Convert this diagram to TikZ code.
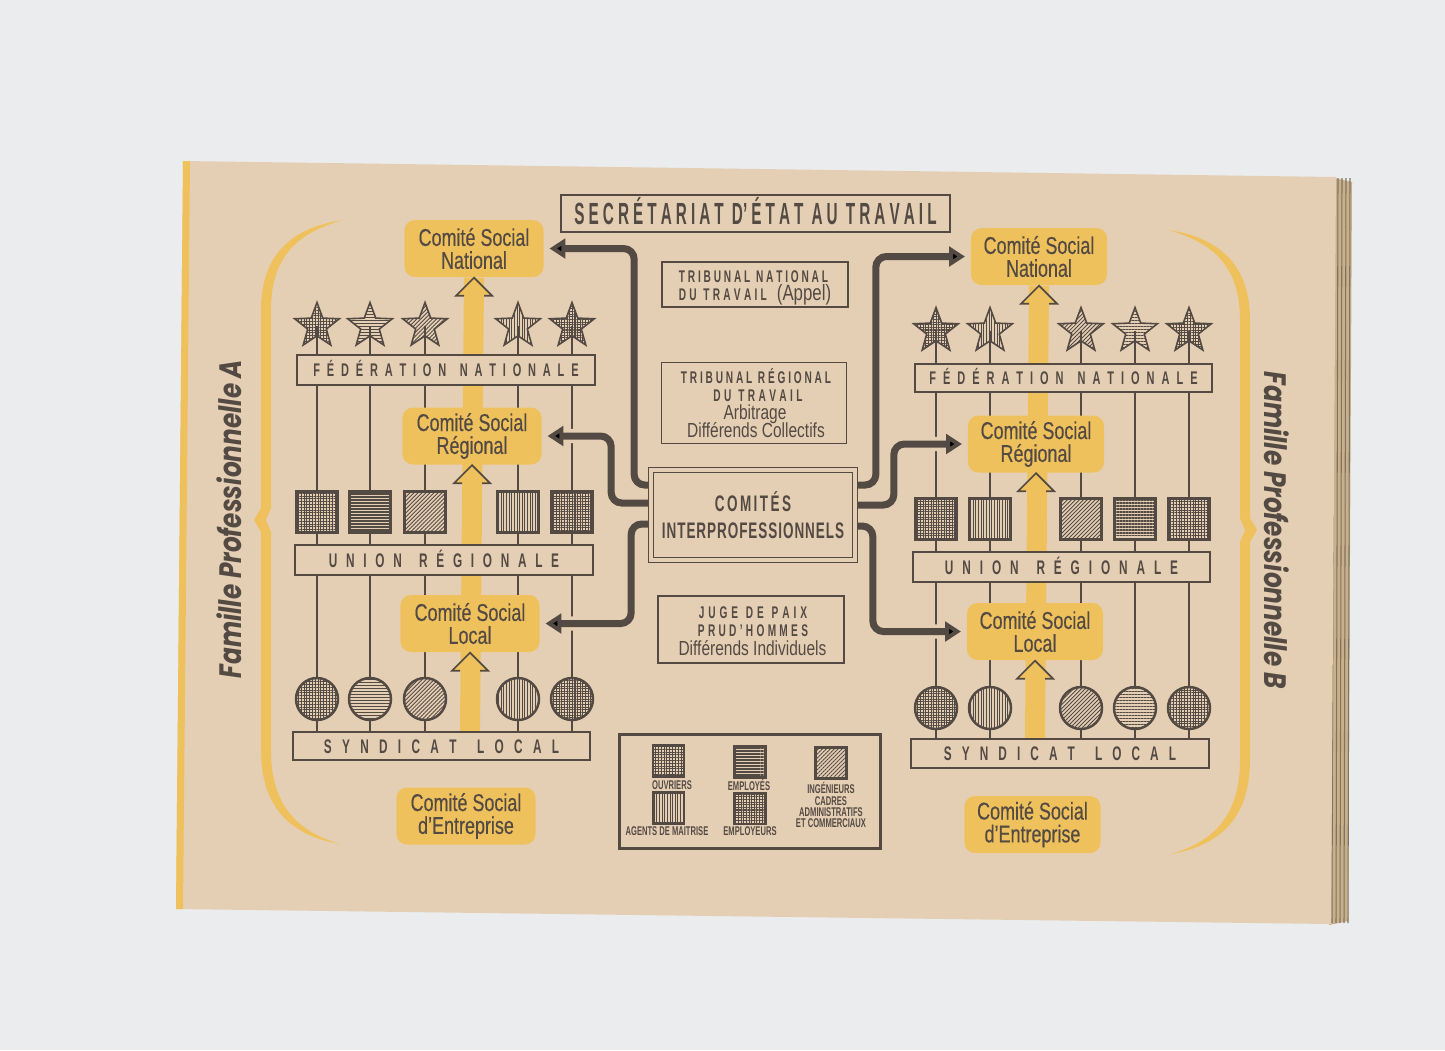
\documentclass[tikz,border=0pt]{standalone}
\usepackage{fontspec}
\setmainfont{Liberation Sans}
\newfontfamily\condf[FakeStretch=0.76]{Liberation Sans}
\newfontfamily\comf[FakeStretch=0.74, FakeBold=0.4]{Liberation Sans}
\newfontfamily\capf[FakeStretch=0.6]{Liberation Sans}
\newfontfamily\titref[FakeStretch=0.5]{Liberation Sans}
\newfontfamily\famf[FakeStretch=0.8]{Poppins}
\usetikzlibrary{shapes.geometric, arrows.meta, patterns.meta, calc}

\pgfdeclarelayer{bg}
\pgfdeclarelayer{mid}
\pgfsetlayers{bg,mid,main}

\definecolor{fond}{RGB}{234,236,237}
\definecolor{papier}{RGB}{229,207,180}
\definecolor{jaune}{RGB}{239,193,92}
\definecolor{encre}{RGB}{84,74,68}
\definecolor{tranche}{RGB}{200,176,138}

% lettres espacees sur une largeur donnee
\newcommand{\spread}[2]{\makebox[#1][s]{\spaceskip=0pt plus 1fil\relax #2}}

\tikzset{
  filet/.style={draw=encre, line width=0.55pt},
  bande/.style={draw=encre, line width=0.6pt, fill=papier, inner sep=0pt,
    minimum width=2.97cm, minimum height=0.29cm, text height=4pt, text depth=0pt,
    font=\capf\bfseries\fontsize{5.6}{6}\selectfont},
  comite/.style={fill=jaune, rounded corners=3pt, inner sep=0pt,
    minimum width=1.39cm, minimum height=0.57cm, align=center,
    font=\comf\fontsize{6.9}{6.5}\selectfont},
  etoile/.style={star, star points=5, star point ratio=2.4, minimum size=0.47cm,
    inner sep=0pt, draw=encre, line width=0.45pt, preaction={fill=papier}},
  carre/.style={rectangle, minimum size=0.41cm, inner sep=0pt, draw=encre,
    line width=0.7pt, preaction={fill=papier}},
  rond/.style={circle, minimum size=0.42cm, inner sep=0pt, draw=encre,
    line width=0.7pt, preaction={fill=papier}},
  pOuv/.style={pattern={Hatch[distance=0.8pt, line width=0.15pt]}, pattern color=encre},
  pEmp/.style={pattern={Lines[angle=0, distance=0.85pt, line width=0.35pt]}, pattern color=encre},
  pIng/.style={pattern={Lines[angle=45, distance=0.8pt, line width=0.25pt]}, pattern color=encre},
  pAg/.style={pattern={Lines[angle=90, distance=0.75pt, line width=0.22pt]}, pattern color=encre},
  pPat/.style={pattern={Hatch[distance=0.75pt, line width=0.3pt]}, pattern color=encre},
  tige/.style={draw=jaune, line width=5.7pt},
  pointe/.style={draw=encre, line width=0.5pt},
  fleche/.style={draw=encre, line width=2pt, rounded corners=3pt, shorten >=1.5pt,
    -{Triangle[length=4.5pt, width=5.5pt]}, preaction={draw=papier, line width=4pt, -}},
  cadre/.style={draw=encre, line width=0.45pt, fill=papier, inner sep=0pt},
  titre/.style={font=\capf\bfseries\fontsize{4.8}{6}\selectfont, anchor=base, inner sep=0pt},
  mot/.style={font=\condf\fontsize{5.8}{6}\selectfont, anchor=base, inner sep=0pt},
  legtxt/.style={font=\capf\bfseries\fontsize{3.6}{3.15}\selectfont, inner sep=0pt},
  famille/.style={font=\famf\bfseries\itshape\fontsize{8.8}{9}\selectfont, inner sep=0pt},
}

\begin{document}
\begin{tikzpicture}[x=0.01cm, y=-0.01cm, color=encre]
\useasboundingbox (0,0) rectangle (1445,1050);

\begin{pgfonlayer}{bg}
% fond, page et tranche
\fill[fond] (0,0) rectangle (1445,1050);
\fill[tranche] (1330,177) -- (1352,182) -- (1348,921) -- (1329,925) -- cycle;
\foreach \d in {3,7,11,15,19}
  \draw[encre!60!tranche, line width=0.3pt] (1331+\d,178) -- (1329+\d,923);
\fill[papier] (183,161) -- (1336,177) -- (1331,924) -- (176,909) -- cycle;
\fill[jaune] (183,161) -- (190,161) -- (183,909) -- (176,909) -- cycle;

% accolades
\fill[jaune] (343,220) .. controls (288,228) and (261,258) .. (261,310) -- (261,508)
  -- (254,520) -- (261,532) -- (261,750) .. controls (261,805) and (288,835) .. (340,844)
  .. controls (292,830) and (271,800) .. (271,750) -- (271,532) -- (266,520) -- (271,508)
  -- (271,310) .. controls (271,262) and (292,234) .. (343,220) -- cycle;
\fill[jaune, shift={(1511,10)}, xscale=-1] (343,220) .. controls (288,228) and (261,258) .. (261,310) -- (261,508)
  -- (254,520) -- (261,532) -- (261,750) .. controls (261,805) and (288,835) .. (340,844)
  .. controls (292,830) and (271,800) .. (271,750) -- (271,532) -- (266,520) -- (271,508)
  -- (271,310) .. controls (271,262) and (292,234) .. (343,220) -- cycle;
\end{pgfonlayer}

% Famille A
\node[bande, minimum height=0.30cm, text height=3.7pt, font=\capf\bfseries\fontsize{5.2}{6}\selectfont]
  (fedA) at (446,370) {\spread{2.65cm}{F É D É R A T I O N \ N A T I O N A L E}};
\node[bande, minimum height=0.30cm] (uniA) at (444,560) {\spread{2.30cm}{U N I O N \ R É G I O N A L E}};
\node[bande, minimum height=0.28cm] (synA) at (441.5,746) {\spread{2.35cm}{S Y N D I C A T \ L O C A L}};

\foreach \x/\p [count=\i] in {317/pOuv, 370/pEmp, 425/pIng, 518/pAg, 572/pPat} {
  \node[etoile, \p] (etA\i) at (\x,326) {};
  \draw[filet] (etA\i.center) -- (etA\i.south);
  \node[carre, \p] (caA\i) at (\x,512) {};
  \node[rond, \p] (roA\i) at (\x,699) {};
}

\node[comite] (csNA) at (474,248.5) {Comité Social\\National};
\node[comite] (csRA) at (472,436) {Comité Social\\Régional};
\node[comite] (csLA) at (470,623.5) {Comité Social\\Local};
\node[comite] (csEA) at (466,816) {Comité Social\\d’Entreprise};

% Famille B
\node[bande, minimum height=0.28cm, text height=3.7pt, font=\capf\bfseries\fontsize{5.2}{6}\selectfont]
  (fedB) at (1063.5,378) {\spread{2.68cm}{F É D É R A T I O N \ N A T I O N A L E}};
\node[bande, minimum height=0.30cm] (uniB) at (1061.5,567) {\spread{2.33cm}{U N I O N \ R É G I O N A L E}};
\node[bande, minimum height=0.29cm] (synB) at (1060,753.5) {\spread{2.32cm}{S Y N D I C A T \ L O C A L}};

\foreach \x/\p [count=\i] in {936/pPat, 990/pAg, 1081/pIng, 1135/pEmp, 1189/pOuv} {
  \node[etoile, \p] (etB\i) at (\x,331) {};
  \draw[filet] (etB\i.center) -- (etB\i.south);
  \node[carre, \p] (caB\i) at (\x,519) {};
  \node[rond, \p] (roB\i) at (\x,708) {};
}

\node[comite, minimum width=1.36cm] (csNB) at (1039,256.5) {Comité Social\\National};
\node[comite, minimum width=1.36cm] (csRB) at (1036,444) {Comité Social\\Régional};
\node[comite, minimum width=1.36cm] (csLB) at (1035,631.5) {Comité Social\\Local};
\node[comite, minimum width=1.36cm] (csEB) at (1032.5,824.5) {Comité Social\\d’Entreprise};

% filets et grandes fleches jaunes
\begin{pgfonlayer}{bg}
\foreach \i in {1,...,5} {
  \draw[filet] (etA\i.south) -- (etA\i.south |- synA.north);
  \draw[filet] (etB\i.south) -- (etB\i.south |- synB.north);
}
\draw[tige] (synA.north -| csLA.south) -- (csNA.south);
\draw[tige] (synB.north -| csLB.south) -- (csNB.south);
\end{pgfonlayer}

\foreach \n in {csNA, csRA, csLA, csNB, csRB, csLB} {
  \fill[jaune] (\n.south) -- ++(-18,18) -- ++(36,0) -- cycle;
  \draw[pointe] ($(\n.south)+(-10,18)$) -- ++(-8,0) -- (\n.south) -- ++(18,18) -- ++(-8,0);
}

% partie centrale
\node[cadre, line width=0.7pt, minimum width=3.89cm, minimum height=0.37cm, text height=6.2pt,
  text depth=0pt, font=\titref\bfseries\fontsize{8.7}{9}\selectfont] (secr) at (755.5,213.5)
  {\spread{3.62cm}{S E C R É T A R I A T \ D’ É T A T \ A U \ T R A V A I L}};

\node[cadre, minimum width=1.86cm, minimum height=0.45cm] (tnat) at (755,284.5) {};
\node[titre] (tnat1) at (753.5,282) {\spread{1.49cm}{T R I B U N A L \ N A T I O N A L}};
\node[titre] (tnat2) at (755,300) {\spread{0.88cm}{D U \ T R A V A I L}\hspace{0.1cm}{\condf\mdseries\fontsize{6.3}{6}\selectfont (Appel)}};

\node[cadre, minimum width=1.85cm, minimum height=0.81cm] (treg) at (754,403) {};
\node[titre] (treg1) at (756,383) {\spread{1.50cm}{T R I B U N A L \ R É G I O N A L}};
\node[titre] (treg2) at (758,401) {\spread{0.89cm}{D U \ T R A V A I L}};
\node[mot] (treg3) at (755,419) {Arbitrage};
\node[mot] (treg4) at (756,437.5) {Différends Collectifs};

\node[draw=encre, double=papier, line width=0.45pt, double distance=1pt, fill=papier,
  minimum width=2.04cm, minimum height=0.90cm, align=center, inner sep=0pt,
  font=\capf\bfseries\fontsize{6.4}{7.7}\selectfont] (ci) at (753,515)
  {\spread{0.76cm}{C O M I T É S}\\\spread{1.82cm}{I N T E R P R O F E S S I O N N E L S}};

\node[cadre, minimum width=1.86cm, minimum height=0.67cm] (juge) at (751,629.5) {};
\node[titre] (juge1) at (753,618) {\spread{1.08cm}{J U G E \ D E \ P A I X}};
\node[titre] (juge2) at (753,636) {\spread{1.10cm}{P R U D ’ H O M M E S}};
\node[mot] (juge3) at (752.5,655) {Différends Individuels};

% legende
\node[cadre, line width=0.85pt, minimum width=2.60cm, minimum height=1.13cm] (legende) at (750,791.5) {};
\node[carre, pOuv, minimum size=0.31cm] (lg1) at (668.5,761) {};
\node[carre, pEmp, minimum size=0.31cm] (lg2) at (750,762) {};
\node[carre, pIng, minimum size=0.31cm] (lg3) at (831,763) {};
\node[carre, pAg, minimum size=0.31cm] (lg4) at (668.5,808) {};
\node[carre, pPat, minimum size=0.31cm] (lg5) at (750,808.5) {};
\node[legtxt, anchor=base] (lt1) at (672,789) {OUVRIERS};
\node[legtxt, anchor=base] (lt2) at (749,790) {EMPLOYÉS};
\node[legtxt, anchor=north, align=center] (lt3) at (831,782) {INGÉNIEURS\\CADRES\\ADMINISTRATIFS\\ET COMMERCIAUX};
\node[legtxt, anchor=base] (lt4) at (667,835) {AGENTS DE MAITRISE};
\node[legtxt, anchor=base] (lt5) at (750,835) {EMPLOYEURS};

% fleches des comites interprofessionnels
\begin{pgfonlayer}{mid}
\draw[fleche] ($(ci.west)+(0,-30)$) -- ++(-16,0) |- (csNA.east);
\draw[fleche] ($(ci.west)+(0,-12)$) -- ++(-39,0) |- (csRA.east);
\draw[fleche] ($(ci.west)+(0,9)$) -- ++(-19,0) |- (csLA.east);
\draw[fleche] ($(ci.east)+(0,-30)$) -- ++(20,0) |- (csNB.west);
\draw[fleche] ($(ci.east)+(0,-10)$) -- ++(38,0) |- (csRB.west);
\draw[fleche] ($(ci.east)+(0,11)$) -- ++(17,0) |- (csLB.west);
\end{pgfonlayer}

% familles
\node[famille, rotate=90] (famA) at (229,519) {Famille Professionnelle A};
\node[famille, rotate=-90] (famB) at (1277,530) {Famille Professionnelle B};
\end{tikzpicture}
\end{document}
